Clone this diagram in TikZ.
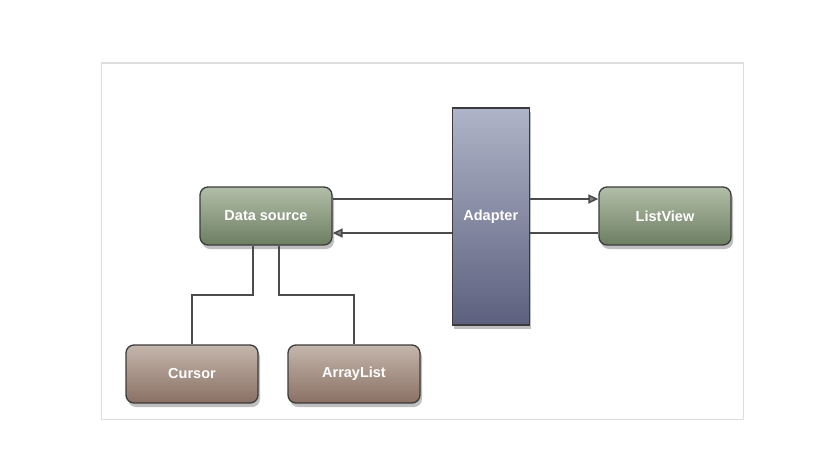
\documentclass[tikz,border=0pt]{standalone}
\usepackage{fontspec}
\setmainfont{Liberation Sans}
\usetikzlibrary{arrows.meta,shadows}
\definecolor{grtop}{RGB}{178,190,168}
\definecolor{grbot}{RGB}{108,126,98}
\definecolor{adtop}{RGB}{176,180,200}
\definecolor{adbot}{RGB}{92,96,126}
\definecolor{brtop}{RGB}{196,182,172}
\definecolor{brbot}{RGB}{138,112,100}
\definecolor{edge}{RGB}{60,60,60}
\definecolor{wire}{RGB}{75,75,75}
\definecolor{frame}{RGB}{222,222,222}
\tikzset{
  box/.style={draw=edge, line width=1.3pt, rounded corners=8pt, minimum width=132pt, minimum height=58pt,
    text=white, font=\bfseries\fontsize{14.5}{16}\selectfont, inner sep=0pt,
    drop shadow={shadow xshift=2pt, shadow yshift=-4pt, opacity=0.25, fill=black}},
  greenbox/.style={box, top color=grtop, bottom color=grbot},
  brownbox/.style={box, top color=brtop, bottom color=brbot},
  adbox/.style={draw=edge, line width=1.3pt, minimum width=77pt, minimum height=217pt,
    text=white, font=\bfseries\fontsize{14.5}{16}\selectfont, inner sep=0pt,
    top color=adtop, bottom color=adbot,
    drop shadow={shadow xshift=2pt, shadow yshift=-4pt, opacity=0.25, fill=black}},
  wireline/.style={draw=wire, line width=1.5pt},
  arr/.style={wireline, -{Triangle[length=10pt,width=9pt,fill=wire!70]}}
}
\begin{document}
\begin{tikzpicture}[x=1pt,y=-1pt]
\useasboundingbox (0,0) rectangle (838,464);
\draw[frame, line width=1.5pt, fill=white] (101.3,63) rectangle (743.3,419.3);
\node[greenbox] (ds) at (266,216) {Data source};
\node[greenbox] (lv) at (665,216) {ListView};
\node[adbox] (ad) at (490.8,216.5) {Adapter};
\node[brownbox] (cur) at (192,374) {Cursor};
\node[brownbox] (al) at (354,374) {ArrayList};
\draw[wireline] (ds.east |- 0,199) -- (ad.west |- 0,199);
\draw[arr] (ad.west |- 0,233) -- (ds.east |- 0,233);
\draw[arr] (ad.east |- 0,199) -- (lv.west |- 0,199);
\draw[wireline] (ad.east |- 0,233) -- (lv.west |- 0,233);
\draw[wireline] (ds.south -| 253,0) -- (253,295) -| (cur.north);
\draw[wireline] (ds.south -| 279,0) -- (279,295) -| (al.north);
\end{tikzpicture}
\end{document}
